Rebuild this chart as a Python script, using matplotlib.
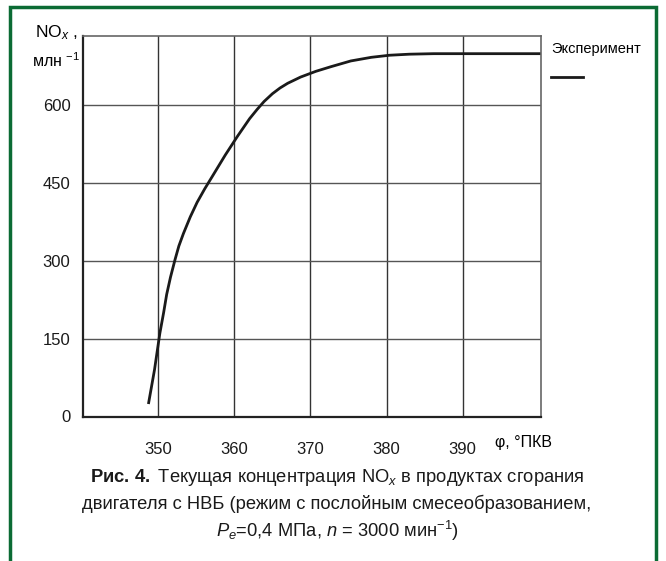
import matplotlib
matplotlib.use("Agg")
import matplotlib.pyplot as plt
from matplotlib.patches import Rectangle

# values
phi = [348.7, 349.5, 350.2, 350.7, 351.1, 351.6, 352.2, 352.7, 353.3, 354.2,
       355.1, 356.1, 357.1, 358.8, 360.4, 362.0, 363.0, 363.9, 365.0, 366.0,
       367.0, 368.7, 370.7, 372.7, 375.3, 378.0, 380.4, 383.0, 386.2, 390.0,
       395.0, 400.3]
nox = [24, 90, 160, 200, 235, 268, 302, 328, 352, 384,
       412, 438, 462, 503, 539, 573, 591, 606, 621, 632,
       641, 653, 664, 673, 684, 691, 695, 697, 698, 698,
       698, 698]
x_ticks = [350, 360, 370, 380, 390]
y_ticks = [0, 150, 300, 450, 600]

fnt = "Liberation Sans"
plt.rcParams['font.family'] = [fnt, 'DejaVu Sans']
plt.rcParams['mathtext.fontset'] = 'custom'
plt.rcParams['mathtext.rm'] = fnt
plt.rcParams['mathtext.it'] = fnt + ':italic'
plt.rcParams['mathtext.bf'] = fnt + ':bold'

fig = plt.figure(figsize=(6.66, 5.61), dpi=100)
ax = fig.add_axes([83/666, 1-416.5/561, (541-83)/666, (416.5-36)/561])

ax.plot(phi, nox, color='#1a1a1a', lw=2.0, solid_capstyle='butt')
ax.set_xlim(340.1, 400.3)
ax.set_ylim(0, 732)

for xv in x_ticks:
    ax.axvline(xv, color='#333333', lw=1.0, zorder=0)
for yv in y_ticks[1:]:
    ax.axhline(yv, color='#555555', lw=1.0, zorder=0)

ax.set_xticks(x_ticks)
ax.set_yticks(y_ticks)
ax.tick_params(length=0, labelsize=12, colors='#1a1a1a')
ax.tick_params(axis='x', pad=18)
ax.tick_params(axis='y', pad=9)
for s in ['left', 'bottom']:
    ax.spines[s].set_color('#222222')
    ax.spines[s].set_linewidth(1.6)
for s in ['top', 'right']:
    ax.spines[s].set_color('#666666')
    ax.spines[s].set_linewidth(1.2)

# axis labels
fig.text(35/666, 1-33/561, r"NO$_{x}$ ,", fontsize=12.5, ha='left', va='center')
fig.text(32/666, 1-61/561, r"млн $^{\mathregular{-1}}$", fontsize=11.5, ha='left', va='center')
fig.text(495/666, 1-442/561, "φ, °ПКВ", fontsize=11.5, ha='left', va='center')

# legend
fig.text(551/666, 1-49/561, "Эксперимент", fontsize=10.5, ha='left', va='center')
fig.add_artist(plt.Line2D([551/666, 583/666], [1-77/561, 1-77/561], color='#1a1a1a', lw=2.0))

# caption
cap = [r"$\mathbf{Рис.\,4.}$ Текущая концентрация NO$_{x}$ в продуктах сгорания",
       "двигателя с НВБ (режим с послойным смесеобразованием,",
       r"$P_{e}$=0,4 МПа, $n$ = 3000 мин$^{\mathregular{-1}}$)"]
for i, line in enumerate(cap):
    fig.text(337/666, 1-(477+27*i)/561, line, fontsize=13.2, ha='center', va='center', color='#1a1a1a')

# green frame
fig.add_artist(Rectangle((10/666, -0.1), (656-10)/666, 1.1-7/561, transform=fig.transFigure,
                         fill=False, edgecolor='#0b6b34', lw=2.5))

fig.savefig("out.png", dpi=100)
